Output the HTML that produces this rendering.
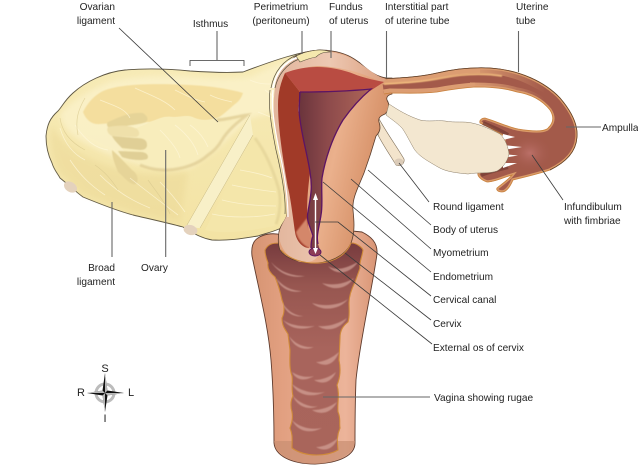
<!DOCTYPE html>
<html><head><meta charset="utf-8"><style>
html,body{margin:0;padding:0;background:#fff}
svg{display:block}
text{font-family:"Liberation Sans",sans-serif;font-size:10.1px;fill:#222}
.l{stroke:#3a3a3a;stroke-width:.8;fill:none}
.v{stroke:#666;stroke-width:1.1;fill:none}
.f{stroke:#d9c98e;stroke-width:.7;fill:none;opacity:.7}
.w{stroke:#fff8dc;stroke-width:.8;fill:none;opacity:.7}
</style></head><body>
<svg width="638" height="465" viewBox="0 0 638 465" xmlns="http://www.w3.org/2000/svg">
<defs>
<filter id="b05" x="-30%" y="-30%" width="160%" height="160%"><feGaussianBlur stdDeviation=".4"/></filter>
<filter id="b1" x="-30%" y="-30%" width="160%" height="160%"><feGaussianBlur stdDeviation=".9"/></filter>
<filter id="b2" x="-30%" y="-30%" width="160%" height="160%"><feGaussianBlur stdDeviation="3"/></filter>
<linearGradient id="band" gradientUnits="userSpaceOnUse" x1="470" y1="0" x2="545" y2="0"><stop offset="0" stop-color="#dc9d72"/><stop offset="1" stop-color="#dc9d72" stop-opacity="0"/></linearGradient>
<linearGradient id="vag" x1="0" x2="1" y1="0" y2="0"><stop offset="0" stop-color="#d69472"/><stop offset=".25" stop-color="#e2a081"/><stop offset=".75" stop-color="#ecb49a"/><stop offset="1" stop-color="#d89474"/></linearGradient>
<linearGradient id="rug" x1="0" x2="0" y1="0" y2="1"><stop offset="0" stop-color="#773b3e"/><stop offset=".2" stop-color="#975650"/><stop offset=".5" stop-color="#a8645c"/><stop offset="1" stop-color="#a9655b"/></linearGradient>
<linearGradient id="cav" x1="0" x2="1" y1="0" y2="0"><stop offset="0" stop-color="#6a343c"/><stop offset=".4" stop-color="#8d4a4b"/><stop offset="1" stop-color="#ad6558"/></linearGradient>
<linearGradient id="body" x1="0" x2="1" y1="0" y2=".4"><stop offset="0" stop-color="#d58f68"/><stop offset=".6" stop-color="#eab08c"/><stop offset="1" stop-color="#d28a60"/></linearGradient>
<radialGradient id="inf" cx=".5" cy=".5" r=".5"><stop offset="0" stop-color="#bb7068"/><stop offset="1" stop-color="#9f5648" stop-opacity="0"/></radialGradient>
<linearGradient id="cer" x1="0" x2="1" y1="0" y2="0"><stop offset="0" stop-color="#e2b59c"/><stop offset=".5" stop-color="#edc8b2"/><stop offset="1" stop-color="#dca080"/></linearGradient>
<linearGradient id="lig" x1="0" x2="0" y1="0" y2="1"><stop offset="0" stop-color="#f7ebb8"/><stop offset="1" stop-color="#f3e3a4"/></linearGradient>
<path id="tb" d="M382 79C400 78 420 77 437 73C450 70 470 67 490 68C520 70 545 82 560 98C572 112 578 125 577 137C576 152 566 162 550 170C538 174 525 177 513 180C510 187 506 192 502 192C498 192 496 190 497 188C503 183 508 180 512 175C502 178 494 182 487 182C481 180 477 176 478 173L482 171C490 168 498 166 504 164L504 136C498 132 488 127 480 123C479 120 482 118 485 118C498 122 508 127 518 129C530 131 542 132 547 129C553 124 555 118 550 110C542 100 530 94 517 92C505 88 490 87 475 87C460 88 448 90 437 92C420 94 405 93 390 93L384 94"/>
<clipPath id="tbc"><use href="#tb"/></clipPath>
</defs>

<!-- Vagina -->
<path d="M258 238C265 233 275 233 282 235L352 231L362 232C370 236 378 242 377 254C372 290 360 340 356 380C355 405 355 425 355 443C355 455 340 463 315 464C290 464 275 455 274 443C274 410 273 385 271 360C268 325 260 295 252 256C251 247 253 241 258 238Z" fill="url(#vag)" stroke="#5e3a2c" stroke-width=".9"/>
<path d="M275 441L355 441C355 453 340 463 315 464C290 464 275 453 274 441Z" fill="#c98e72" opacity=".7"/>
<path d="M265 250C268 244 272 243 280 243L352 243C356 243 362 247 363 250C362 258 359 262 360 268L355 282C352 288 349 296 349 303C349 310 350 316 348 322C343 326 340 330 340 338L339 360C341 370 340 378 337 385C340 395 337 403 338 412C341 418 339 423 340 428C337 435 337 440 338 450C328 456 306 458 292 448C292 440 293 435 290 428C292 422 293 418 292 412C290 405 291 400 293 396C291 388 293 382 292 376C289 368 290 358 290 350L288 334C284 328 282 325 282 318C285 312 284 305 282 300C280 290 278 284 275 277C270 273 267 268 268 263C266 258 265 254 265 250Z" fill="url(#rug)" stroke="#cf8a3a" stroke-width="1.1"/>
<g fill="#dcaea3" opacity=".6" filter="url(#b05)">
<path d="M271 262C280 272 292 276 305 276C292 279 279 274 271 262Z"/>
<path d="M276 278C284 288 294 291 302 291C291 294 280 288 276 278Z"/>
<path d="M282 302C288 312 296 316 304 316C293 318 285 312 282 302Z"/>
<path d="M283 320C291 326 305 327 315 326C302 331 290 329 283 320Z"/>
<path d="M289 336C295 344 304 348 314 347C303 352 293 346 289 336Z"/>
<path d="M292 372C298 376 306 378 314 376C304 382 296 380 292 372Z"/>
<path d="M292 384C302 392 315 394 325 392C312 398 298 396 292 384Z"/>
<path d="M293 396C300 404 312 408 318 406C308 411 297 406 293 396Z"/>
<path d="M292 420C300 428 312 430 322 428C310 434 298 432 292 420Z"/>
<path d="M328 266C336 271 345 269 358 262C350 274 336 276 328 266Z"/>
<path d="M322 283C332 286 345 284 354 278C346 290 332 291 322 283Z"/>
<path d="M312 303C325 307 340 305 348 299C340 310 322 312 312 303Z"/>
<path d="M318 326C328 327 338 324 347 318C340 330 326 332 318 326Z"/>
<path d="M316 362C324 362 332 358 339 352C334 366 324 367 316 362Z"/>
<path d="M314 380C322 380 330 377 336 372C331 383 322 385 314 380Z"/>
<path d="M312 410C322 410 330 407 337 402C331 414 320 415 312 410Z"/>
<path d="M316 447C324 447 332 443 338 438C333 450 324 452 316 447Z"/>
</g>

<!-- Broad ligament -->
<path d="M320 50C300 52 280 58 243 72C225 73 205 72 190 71C170 69 150 68 125 70C105 72 85 82 73 93C64 101 62 107 58 111C50 118 47 125 46 136C46 145 48 155 52 163C54 170 58 174 60 178C70 186 76 192 83 197C100 204 118 211 133 215C150 219 168 223 183 227C192 232 200 238 212 240C230 241 245 238 258 236C270 232 280 230 288 224L300 190L295 80Z" fill="url(#lig)" stroke="#5a5340" stroke-width=".9"/>
<path d="M60 114C72 100 90 90 110 82C135 76 165 75 190 77C210 79 235 79 250 77C262 72 275 65 290 60L282 110L250 118L215 150L190 168C160 172 125 163 95 148C75 138 62 130 60 114Z" fill="#fbf2cb" opacity=".8" filter="url(#b2)"/>
<path d="M52 125C62 148 90 160 115 168C135 175 165 177 188 172L180 222L133 212L83 194L60 173C52 160 48 140 52 125Z" fill="#ecd998" opacity=".55" filter="url(#b2)"/>
<path d="M83 112C88 102 95 95 103 91C120 84 150 83 190 85C210 86 230 89 243 93C241 99 238 102 235 104C228 110 222 116 217 118C208 121 200 121 192 117C185 115 178 118 171 117C163 116 157 120 150 122C130 122 115 123 100 124C92 125 86 120 83 112Z" fill="#f4de9e" filter="url(#b05)"/>
<path d="M150 122C157 120 163 116 171 117C178 118 185 115 192 117C200 121 208 121 217 118L247 115C238 122 228 130 222 140C218 147 214 151 208 155C198 164 185 169 167 170C155 170 148 168 140 165C130 158 120 150 118 138C126 130 140 128 150 122Z" fill="#f8edbc"/>
<path d="M217 120C226 120 238 116 247 115C238 122 228 130 222 140C218 147 214 151 208 155C198 164 185 169 167 170C155 170 148 168 140 165" fill="none" stroke="#d9c48a" stroke-width="3" opacity=".6" filter="url(#b1)"/>
<g filter="url(#b05)">
<path d="M108 122C118 118 128 112 143 113C150 118 148 122 143 123C135 125 125 126 110 128C107 127 106 124 108 122Z" fill="#e6d498"/>
<path d="M108 127C120 125 130 125 137 129C141 133 139 137 135 137L112 136C108 134 106 130 108 127Z" fill="#efe0aa"/>
<path d="M112 136L135 138C144 138 147 140 147 145C147 148 145 150 140 150L122 148C118 144 114 140 112 136Z" fill="#e0cf96"/>
<path d="M118 151L142 152C148 153 149 157 147 159C142 161 130 160 122 157Z" fill="#e0cf96"/>
<path d="M112 150C118 155 125 163 132 170C138 174 139 180 136 184C131 186 125 178 118 172C115 164 112 158 112 150Z" fill="#e6d498"/>
</g>
<!-- strips -->
<path d="M253 135C265 152 278 180 280 205C280 215 278 220 274 226C255 230 225 235 205 230Z" fill="#f4e6aa"/>
<path d="M250 115L187 225C192 227 196 228 200 228L253 135C252 128 251 122 250 115Z" fill="#f8f0c8"/>
<path d="M250 115L187 225M200 228L253 135" fill="none" stroke="#c9ba84" stroke-width=".5"/>
<path d="M255 138C264 150 272 165 279 190C281 200 280 214 276 224" fill="none" stroke="#d8c78b" stroke-width="3" opacity=".45" filter="url(#b1)"/>
<ellipse cx="70.500" cy="187" rx="7" ry="5" transform="rotate(32 70.500 187)" fill="#e4d2bd"/>
<ellipse cx="190.500" cy="230" rx="7" ry="5" transform="rotate(15 190.500 230)" fill="#e4d2bd"/>
<g class="w">
<path d="M100 100C112 105 125 108 130 118"/><path d="M135 88C150 95 165 100 175 110"/><path d="M175 90C185 95 195 100 205 102"/><path d="M210 95C220 100 225 100 232 102"/>
<path d="M160 130C170 140 178 150 180 158"/><path d="M175 125C188 135 195 145 198 155"/><path d="M190 125C200 132 205 140 208 147"/>
<path d="M75 125C85 140 95 148 108 150"/><path d="M60 128C65 145 75 155 85 160"/>
<path d="M100 175C115 190 130 200 150 208"/><path d="M130 178C145 190 165 205 178 215"/><path d="M160 182C170 192 180 205 185 212"/>
<path d="M70 160C80 175 90 185 105 195"/><path d="M240 170C252 172 262 174 272 178"/><path d="M232 185C245 188 260 190 276 192"/><path d="M222 200C238 204 258 206 276 206"/><path d="M212 214C230 218 255 218 275 214"/>
<path d="M265 90C272 95 278 100 282 104"/><path d="M258 112C268 116 275 118 282 125"/><path d="M250 80C258 84 265 84 272 84"/>
</g>
<g class="f"><path d="M60 118C62 132 70 142 85 150"/><path d="M85 98C78 110 75 120 78 135"/><path d="M95 165C105 172 112 180 118 190"/><path d="M148 180C155 190 165 202 170 214"/></g>

<!-- Round ligament -->
<path d="M378 117C386 132 397 147 404 159C405 164 400 167 396 165C390 155 383 145 378 135Z" fill="#f3e4cc" stroke="#7a6a55" stroke-width=".6"/>
<ellipse cx="399" cy="162" rx="4.500" ry="3.500" fill="#dbcbb8"/>

<!-- Uterus body -->
<path d="M302 53C312 50 322 49 332 51C345 53 352 57 360 63C368 70 376 77 387 78L392 78L392 94C388 95 386 97 387 100C390 105 389 110 385 114C380 116 378 118 379 122C381 128 380 132 376 136C372 150 368 162 364 173C358 188 352 198 353 210C354 220 355 230 352 240C349 252 335 262 317 263C300 264 285 258 280 250C278 245 278 238 279 232C280 225 285 222 287 215L288 190L277 125L278 90C282 68 290 58 302 53Z" fill="url(#body)" stroke="#5a3e2e" stroke-width=".8"/>

<!-- Tube -->
<use href="#tb" fill="#a35a4a"/>
<g clip-path="url(#tbc)">
<use href="#tb" fill="none" stroke="#d99a68" stroke-width="3.500"/>
<path d="M382 79C400 78 420 77 437 73C450 70 465 68 480 68" fill="none" stroke="#dc9d72" stroke-width="11"/>
<path d="M480 68C510 69 525 75 550 90" fill="none" stroke="url(#band)" stroke-width="11"/>
<path d="M384 94L390 93C405 93 420 94 437 92C448 90 460 88 475 87" fill="none" stroke="#dc9d72" stroke-width="9"/>
<path d="M470 87C490 87 505 88 517 92C530 94 542 100 550 110" fill="none" stroke="url(#band)" stroke-width="9"/>
<path d="M384 84C402 83 422 82 442 78C462 74 482 73 502 76" fill="none" stroke="#eeb87c" stroke-width="1.800" filter="url(#b05)"/>
<ellipse cx="530" cy="153" rx="24" ry="20" fill="url(#inf)"/>
</g>
<use href="#tb" fill="none" stroke="#c8803c" stroke-width=".8"/>
<path d="M382 79C400 78 420 77 437 73C450 70 470 67 490 68C520 70 545 82 560 98C572 112 578 125 577 137C576 152 566 162 550 170" fill="none" stroke="#5a3d2c" stroke-width=".7"/>
<path d="M483 123C490 126 500 130 508 135M481 175C488 172 500 169 508 167" stroke="#743c34" stroke-width="4" fill="none" opacity=".75"/>
<g fill="#fff"><path d="M503 134L515 137L503 140Z"/><path d="M503 145L522 147L503 150Z"/><path d="M503 154L518 155.500L503 158Z"/><path d="M503 163L517 163L503 168Z"/></g>

<!-- Ovary -->
<path d="M389 104C398 110 408 116 420 120C428 122 437 120 445 121C455 123 464 121 472 123C482 125 492 130 500 134C506 140 508 147 509 154C507 163 502 168 497 171C488 174 478 172 468 174C458 173 446 172 438 167C426 160 417 155 413 147C408 138 405 132 402 128C396 122 391 119 386 115Z" fill="#f3e7d0" stroke="#8a7c66" stroke-width=".5"/>

<!-- Uterus internal -->
<path d="M276 80C280 66 290 60 302 55L330 52C345 54 355 60 362 65C372 72 380 78 386 79L382 83C360 70 330 66 317 66C305 67 295 70 285 73C282 90 282 108 284 125C290 150 296 175 296 200C296 215 299 228 306 240L320 250C318 260 312 263 300 262C288 258 280 248 279 236C279 228 285 220 287 215C286 185 278 150 274 120C273 105 274 92 276 80Z" fill="url(#cer)"/>
<path d="M273 88C276 72 285 62 298 57L304 54" fill="none" stroke="#fff" stroke-width="1.800"/>
<path d="M271 88C274 71 284 60 297 55" fill="none" stroke="#5a5340" stroke-width=".7"/>
<path d="M275 88C278 74 287 64 299 59" fill="none" stroke="#5a5340" stroke-width=".7"/>
<path d="M270 90C268 105 271 125 276 150C282 175 286 200 285 214" fill="none" stroke="#5a5340" stroke-width=".7"/>
<path d="M273 90C271 105 274 125 279 150C285 175 288 200 288 217" fill="none" stroke="#fff" stroke-width="1.200"/>
<path d="M303 53C310 51 316 50 320 50C324 50 328 51 331 52C322 52 319 54 316 57C310 58 305 60 300 62L296 56Z" fill="#f5e8ae" stroke="#5a5340" stroke-width=".6"/>

<!-- Myometrium section -->
<path d="M285 73L300 92L298 110C302 130 310 155 310 172C308 190 306 205 308 222L309 248C302 248 296 240 295 232C292 210 290 195 288 188C284 165 278 130 278 105C278 92 281 82 285 73Z" fill="#a13a28"/>
<path d="M285 73C295 69 306 67 317 67C330 67 344 70 354 74C364 78 374 80 384 82L370 91L300 92Z" fill="#b94c42"/>
<path d="M296 232C298 240 303 245 309 248L318 248L316 240C313 236 307 228 307 218Z" fill="#d4876a" filter="url(#b1)"/>
<!-- Cavity -->
<path d="M299 92C320 92 350 91 371 88C358 100 350 110 343 120C332 138 325 160 322 178C321 190 323 205 321 218C319 228 316 236 318 244L320 250C318 255 313 256 311 254C311 245 311 240 313 236C310 226 306 220 308 212C310 198 313 190 310 172C307 152 300 130 299 110Z" fill="url(#cav)"/>
<path d="M300 92C320 92 350 91 371 89C358 100 350 110 343 120C332 138 325 160 322 178C321 190 323 205 321 215C319 228 316 236 318 244" fill="none" stroke="#5c1464" stroke-width="1.300"/>
<path d="M300 92L299 110C300 130 307 152 310 172C313 190 310 198 308 212C306 220 310 226 313 236C311 240 311 245 311 248" fill="none" stroke="#5c1464" stroke-width="1.300"/>
<ellipse cx="315" cy="252" rx="6" ry="4" fill="#8d3c57" stroke="#5c1464" stroke-width=".9"/>
<path d="M281 250C290 260 305 264 320 263C335 262 347 254 351 243" fill="none" stroke="#cf8a3a" stroke-width="1"/>
<path d="M315.500 197V250" stroke="#fff" stroke-width="1.400"/>
<path d="M315.500 193L318 200H313Z" fill="#fff"/>
<path d="M315.500 254L318 248H313Z" fill="#fff"/>

<!-- Leader lines -->
<g class="l">
<path d="M119 28L218 122"/>
<path d="M190 66V60.500H244V66"/>
<path d="M532 155L563 200"/>
<path d="M399 163L429 202"/>
<path d="M368 170L431 225"/>
<path d="M351 179L431 249"/>
<path d="M323 182L431 272"/>
<path d="M315 222H338L431 296"/>
<path d="M345 253L431 320"/>
<path d="M320 255L432 344"/>
</g>
<g class="v">
<path d="M217 60V31"/>
<path d="M165.700 150V257"/><path d="M112 202V257"/>
<path d="M302 54V31"/><path d="M331 58V31"/><path d="M386.500 78V31"/><path d="M518.500 72V31"/>
<path d="M566 127H601"/>
<path d="M323 397H430"/>
</g>

<!-- Labels -->
<text x="115" y="10" text-anchor="end">Ovarian</text>
<text x="115" y="24" text-anchor="end">ligament</text>
<text x="210.500" y="27" text-anchor="middle">Isthmus</text>
<text x="281" y="10" text-anchor="middle">Perimetrium</text>
<text x="281" y="24" text-anchor="middle">(peritoneum)</text>
<text x="329" y="10">Fundus</text>
<text x="329" y="24">of uterus</text>
<text x="385" y="10">Interstitial part</text>
<text x="385" y="24">of uterine tube</text>
<text x="516" y="10">Uterine</text>
<text x="516" y="24">tube</text>
<text x="602" y="131">Ampulla</text>
<text x="564" y="210">Infundibulum</text>
<text x="564" y="224">with fimbriae</text>
<text x="433" y="210">Round ligament</text>
<text x="433" y="233">Body of uterus</text>
<text x="433" y="256">Myometrium</text>
<text x="433" y="280">Endometrium</text>
<text x="433" y="303">Cervical canal</text>
<text x="433" y="327">Cervix</text>
<text x="433" y="351">External os of cervix</text>
<text x="434" y="401">Vagina showing rugae</text>
<text x="115" y="271" text-anchor="end">Broad</text>
<text x="115" y="285" text-anchor="end">ligament</text>
<text x="141" y="271">Ovary</text>

<!-- Compass -->
<circle cx="105" cy="393" r="9" fill="none" stroke="#bcbcbc" stroke-width="3"/>
<path d="M105 373L107.500 390.500L124 393L107.500 395.500L105 412L102.500 395.500L87 393L102.500 390.500Z" fill="#111"/>
<path d="M105 373L107.500 390.500L105 393ZM124 393L107.500 395.500L105 393ZM105 412L102.500 395.500L105 393ZM87 393L102.500 390.500L105 393Z" fill="#fff" opacity=".7"/>
<text x="105" y="372" text-anchor="middle" style="font-size:11px">S</text>
<text x="81" y="396" text-anchor="middle" style="font-size:11px">R</text>
<text x="131" y="396" text-anchor="middle" style="font-size:11px">L</text>
<text x="105" y="422" text-anchor="middle" style="font-size:11px">I</text>
</svg>
</body></html>
